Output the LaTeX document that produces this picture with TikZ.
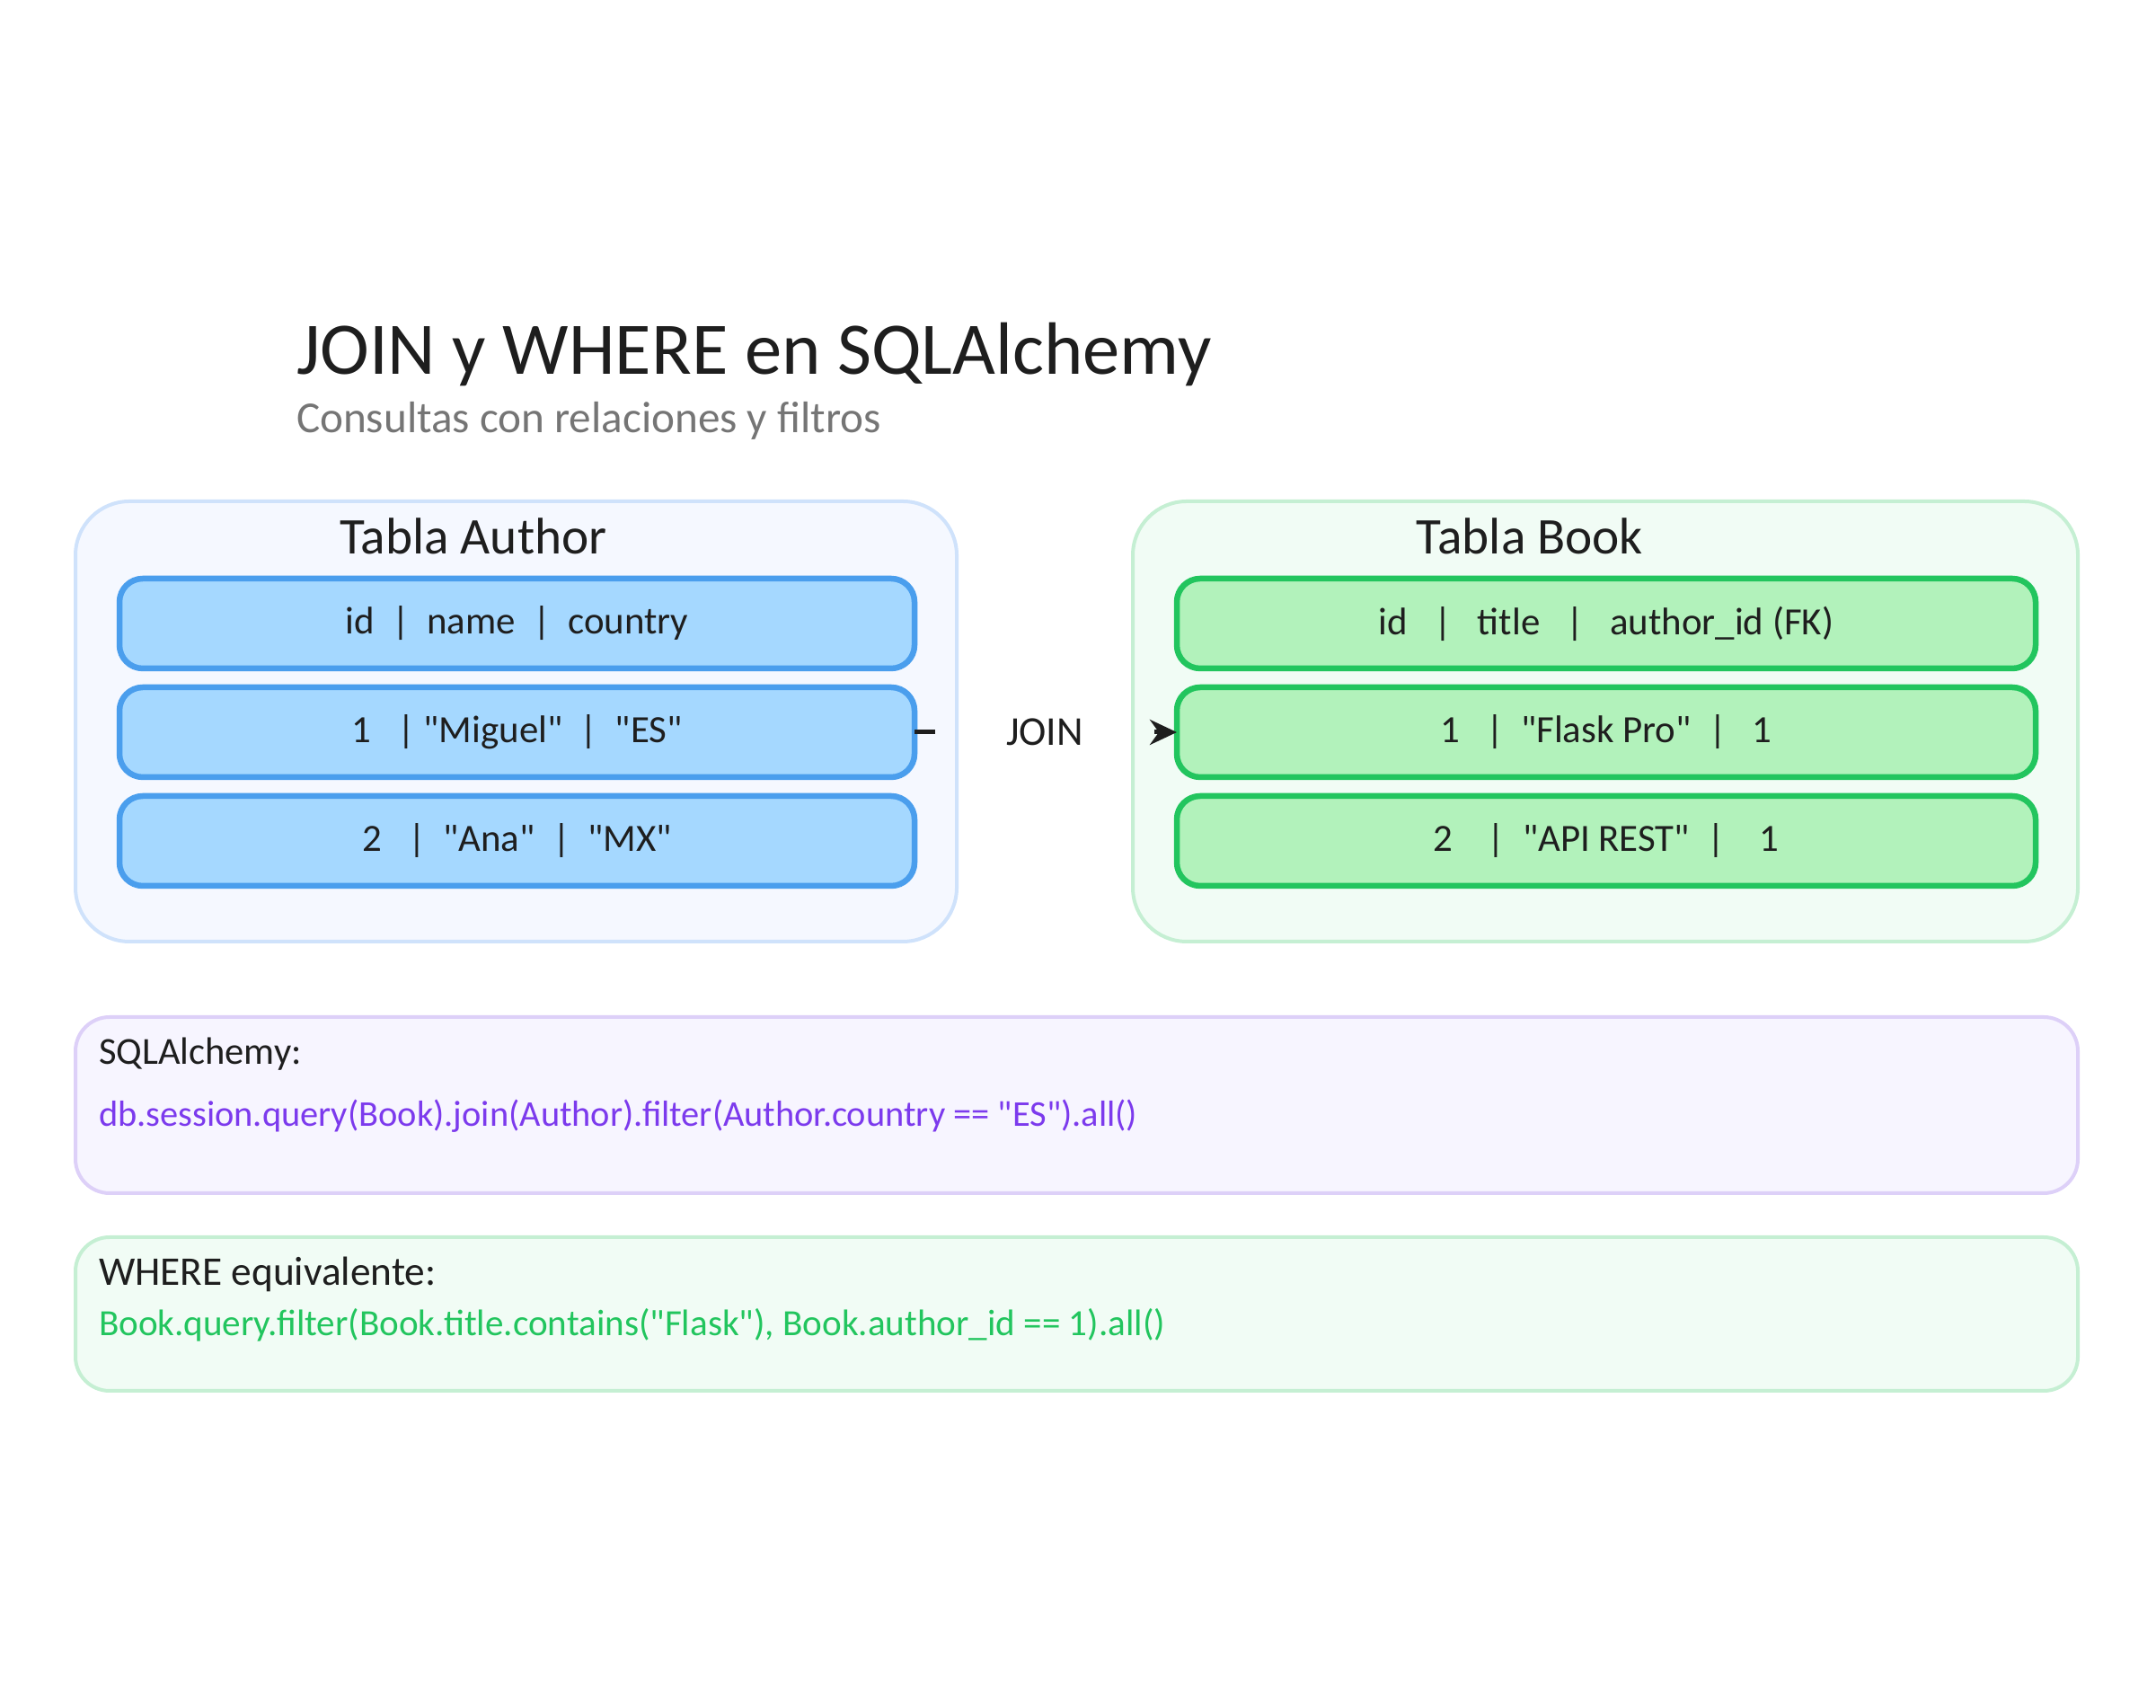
\documentclass[tikz,border=0pt]{standalone}
\usepackage{fontspec}
\setmainfont[Ligatures=TeXOff]{Carlito}
\usetikzlibrary{positioning}
\usetikzlibrary{arrows.meta}
\definecolor{myInk}{RGB}{30,30,30}
\definecolor{myGrayText}{RGB}{117,117,117}
\definecolor{myBlueFill}{RGB}{245,248,255}
\definecolor{myBlueEdge}{RGB}{207,226,251}
\definecolor{myBlueRow}{RGB}{165,216,255}
\definecolor{myBlueLine}{RGB}{74,158,237}
\definecolor{myGreenFill}{RGB}{241,252,245}
\definecolor{myGreenEdge}{RGB}{197,239,211}
\definecolor{myGreenRow}{RGB}{178,242,187}
\definecolor{myGreenLine}{RGB}{34,197,94}
\definecolor{myPurpleFill}{RGB}{247,245,255}
\definecolor{myPurpleEdge}{RGB}{221,208,248}
\definecolor{myPurpleText}{RGB}{124,58,237}

\begin{document}
\begin{tikzpicture}[>={Stealth[length=0.3cm,width=0.28cm,inset=0.1cm]},
  every node/.style={inner sep=0pt,outer sep=0pt,text=myInk},
  big panel/.style={rectangle,rounded corners=0.6cm,line width=0.04cm,minimum height=4.9cm},
  code panel/.style={rectangle,rounded corners=0.38cm,line width=0.04cm,minimum width=22.29cm},
  blue row/.style={rectangle,rounded corners=0.26cm,line width=0.065cm,draw=myBlueLine,fill=myBlueRow,
  minimum width=8.85cm,minimum height=1cm,font=\fontsize{12.2}{15}\selectfont},
  green row/.style={rectangle,rounded corners=0.26cm,line width=0.065cm,draw=myGreenLine,fill=myGreenRow,
  minimum width=9.56cm,minimum height=1cm,font=\fontsize{12.2}{15}\selectfont},
  table title/.style={font=\fontsize{16.3}{20}\selectfont},
  box title/.style={anchor=west,font=\fontsize{12.1}{15}\selectfont},
  code text/.style={anchor=west,font=\fontsize{11.5}{14}\selectfont}]

\useasboundingbox (0,0) rectangle (24,19);

% The title
\node[anchor=west,font=\fontsize{23.5}{28}\selectfont] (Title) at (3.30,15.05) {JOIN y WHERE en SQLAlchemy};
\node[anchor=west,text=myGrayText,font=\fontsize{14}{17}\selectfont] (Subtitle) at (3.30,14.32) {Consultas con relaciones y filtros};

% The two tables
\node[big panel,draw=myBlueEdge,fill=myBlueFill,minimum width=9.81cm] (AuthorPanel) at (5.745,10.97) {};
\node[big panel,draw=myGreenEdge,fill=myGreenFill,minimum width=10.52cm] (BookPanel) at (17.87,10.97) {};
\node[table title] (AuthorTitle) at (5.27,13.03) {Tabla Author};
\node[table title] (BookTitle) at (17.03,13.03) {Tabla Book};

\node[blue row] (A1) at (5.755,12.06) {id~~|~~name~~|~~country};
\node[blue row] (A2) [below =0.21cm of A1] {1~~~|~"Miguel"~~|~~"ES"};
\node[blue row] (A3) [below =0.21cm of A2] {2~~~|~~"Ana"~~|~~"MX"};
\node[green row] (B1) at (17.88,12.06) {id~~~|~~~title~~~|~~~author\_id (FK)};
\node[green row] (B2) [below =0.21cm of B1] {1~~~|~~"Flask Pro"~~|~~~1};
\node[green row] (B3) [below =0.21cm of B2] {2~~~~|~~"API REST"~~|~~~~1};

% The code boxes
\node[code panel,draw=myPurpleEdge,fill=myPurpleFill,minimum height=1.96cm] (SqlPanel) at (11.985,6.70) {};
\node[code panel,draw=myGreenEdge,fill=myGreenFill,minimum height=1.71cm] (WherePanel) at (11.985,4.375) {};
\node[box title] (SqlTitle) at (1.10,7.27) {SQLAlchemy:};
\node[code text,text=myPurpleText] (SqlCode) at (1.10,6.58) {db.session.query(Book).join(Author).filter(Author.country == "ES").all()};
\node[box title,font=\fontsize{12.9}{15}\selectfont] (WhereTitle) at (1.10,4.82) {WHERE equivalente:};
\node[code text,text=myGreenLine,font=\fontsize{11.7}{14}\selectfont] (WhereCode) at (1.10,4.25) {Book.query.filter(Book.title.contains("Flask"), Book.author\_id == 1).all()};

% The arrow with its label
\node[minimum width=2.44cm,font=\fontsize{13}{16}\selectfont] (Join) [right =0.23cm of A2] {JOIN};
\draw[line width=0.05cm,myInk] (A2.east) -- (Join.west);
\draw[->,line width=0.05cm,myInk] (Join.east) -- (B2.west);

\end{tikzpicture}
\end{document}
